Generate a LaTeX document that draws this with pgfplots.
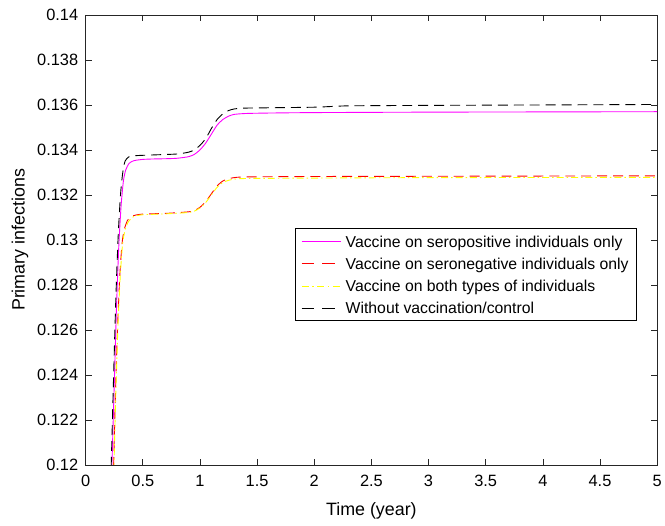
\documentclass[border=0pt]{standalone}
\usepackage{pgfplots}
\pgfplotsset{compat=1.18}
\usepackage{fontspec}
\setmainfont{Liberation Sans}
\definecolor{axgray}{rgb}{0.15,0.15,0.15}
\definecolor{cMag}{rgb}{1,0,1}
\definecolor{cRed}{rgb}{1,0,0}
\definecolor{cYel}{rgb}{1,1,0}
\begin{document}
\begin{tikzpicture}
\begin{axis}[
  scale only axis,
  width=574bp, height=452bp,
  xmin=0, xmax=5, ymin=0.12, ymax=0.14,
  xtick={0,0.5,...,5},
  ytick={0.12,0.122,...,0.1405},
  xticklabels={0,0.5,1,1.5,2,2.5,3,3.5,4,4.5,5},
  yticklabels={0.12,0.122,0.124,0.126,0.128,0.13,0.132,0.134,0.136,0.138,0.14},
  scaled y ticks=false,
  tick align=inside,
  major tick length=6bp,
  axis line style={axgray, line width=0.6bp},
  every tick/.style={axgray, line width=0.6bp},
  tick label style={font=\fontsize{16.5}{19}\selectfont, text=black},
  yticklabel style={xshift=-4bp},
  xticklabel style={yshift=-7bp},
  label style={font=\fontsize{18}{21}\selectfont},
  xlabel={Time (year)},
  ylabel={Primary infections},
  xlabel style={yshift=-9bp},
  ylabel style={yshift=2bp},
  clip=true,
]
\coordinate (bl) at (rel axis cs:0,0);
\addplot[color=cMag, line width=0.9bp, smooth, tension=0.4] coordinates {
(0.22,0.1185) (0.23,0.1200) (0.25,0.1235) (0.27,0.1270) (0.29,0.1297) (0.31,0.1315) (0.33,0.1326) (0.35,0.1331) (0.38,0.13340) (0.42,0.13352) (0.5,0.13358) (0.6,0.13360) (0.7,0.13361) (0.8,0.13363) (0.9,0.13370) (0.95,0.13380) (1.0,0.13400) (1.05,0.13430) (1.1,0.13470) (1.15,0.13510) (1.2,0.13535) (1.25,0.13550) (1.3,0.13558) (1.4,0.13562) (1.6,0.13564) (2,0.13566) (3,0.13568) (4,0.13569) (5,0.13570)
};
\addplot[color=cRed, line width=0.9bp, dash pattern=on 10bp off 6bp, smooth, tension=0.4] coordinates {
(0.235,0.1185) (0.245,0.1200) (0.26,0.1230) (0.28,0.1262) (0.30,0.1285) (0.32,0.1299) (0.34,0.1305) (0.37,0.1309) (0.42,0.13108) (0.5,0.13115) (0.7,0.13118) (0.9,0.13125) (0.95,0.13130) (1.0,0.13145) (1.05,0.13170) (1.1,0.13205) (1.15,0.13240) (1.2,0.13262) (1.25,0.13272) (1.3,0.13277) (1.4,0.13280) (2,0.13282) (3,0.13283) (5,0.13285)
};
\addplot[color=cYel, line width=0.9bp, dash pattern=on 7bp off 3bp on 1.5bp off 3bp, smooth, tension=0.4] coordinates {
(0.238,0.1185) (0.248,0.1200) (0.263,0.1230) (0.283,0.1262) (0.303,0.1284) (0.323,0.1298) (0.343,0.1304) (0.373,0.1308) (0.42,0.13104) (0.5,0.13112) (0.7,0.13116) (0.9,0.13122) (0.95,0.13128) (1.0,0.13142) (1.05,0.13166) (1.1,0.13200) (1.15,0.13234) (1.2,0.13255) (1.25,0.13265) (1.3,0.13270) (1.4,0.13273) (2,0.13275) (3,0.13277) (5,0.13278)
};
\addplot[color=black, line width=0.9bp, dash pattern=on 10bp off 6bp, smooth, tension=0.4] coordinates {
(0.215,0.1185) (0.225,0.1202) (0.245,0.1240) (0.265,0.1275) (0.285,0.1302) (0.305,0.1320) (0.325,0.1330) (0.345,0.1335) (0.38,0.13370) (0.45,0.13375) (0.6,0.13378) (0.8,0.13382) (0.9,0.13390) (0.95,0.13400) (1.0,0.13420) (1.05,0.13450) (1.1,0.13495) (1.15,0.13535) (1.2,0.13560) (1.25,0.13575) (1.3,0.13582) (1.4,0.13586) (2,0.13590) (2.3,0.13596) (3,0.13598) (4,0.13600) (5,0.13602)
};
\end{axis}
\begin{scope}[shift={(bl)}]
\draw[black, line width=0.6bp, fill=white] (211bp,145bp) rectangle (553bp,238bp);
\draw[cMag, line width=0.9bp] (217bp,224.3bp) -- (256bp,224.3bp);
\draw[cRed, line width=0.9bp, dash pattern=on 12.5bp off 8bp] (217bp,202bp) -- (256bp,202bp);
\draw[cYel, line width=0.9bp, dash pattern=on 7bp off 3.5bp on 1.5bp off 3.5bp] (217bp,179.3bp) -- (256bp,179.3bp);
\draw[black, line width=0.9bp, dash pattern=on 12.5bp off 8bp] (217bp,157.7bp) -- (256bp,157.7bp);
\begin{scope}[every node/.style={anchor=base west, inner sep=0pt, font=\fontsize{15.9}{19}\selectfont}]
\node at (261bp,218.8bp) {Vaccine on seropositive individuals only};
\node at (261bp,196.5bp) {Vaccine on seronegative individuals only};
\node at (261bp,173.8bp) {Vaccine on both types of individuals};
\node at (261bp,152.2bp) {Without vaccination/control};
\end{scope}
\end{scope}
\path (bl) ++(-86bp,-61bp) rectangle ++(665bp,528bp);
\end{tikzpicture}
\end{document}
